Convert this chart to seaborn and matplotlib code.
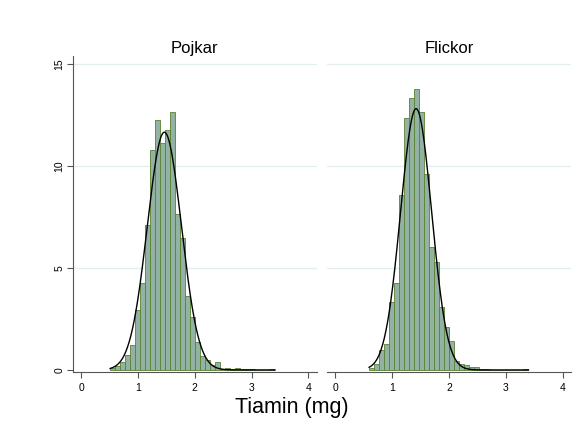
import numpy as np
import pandas as pd
import matplotlib
matplotlib.use("Agg")
import matplotlib.pyplot as plt
import seaborn as sns

# ---- data (percent of observations per bin) ----
panels = ["Pojkar", "Flickor"]
bin_width = 0.0877
boys_start = 0.51
boys_pct = [0.10, 0.20, 0.40, 0.75, 1.23, 2.95, 4.25, 7.10, 10.80, 12.27,
            11.15, 11.77, 12.65, 7.65, 6.45, 3.65, 2.62, 1.35, 0.69, 0.49,
            0.25, 0.41, 0.05, 0.12, 0.05, 0.12, 0.03, 0.03, 0.03, 0.0,
            0.0, 0.0, 0.03]
girls_start = 0.592
girls_pct = [0.08, 0.28, 0.98, 1.28, 3.35, 4.26, 8.60, 12.37, 13.35, 13.79,
             12.66, 9.62, 6.03, 5.28, 3.11, 2.13, 1.43, 0.45, 0.28, 0.26,
             0.15, 0.15, 0.03, 0.03, 0.0, 0.0, 0.0, 0.0, 0.0, 0.0,
             0.0, 0.03]
# normal-curve parameters (mean, sd) for each panel
boys_mean, boys_sd = 1.465, 0.30
girls_mean, girls_sd = 1.42, 0.273

x_ticks = [0, 1, 2, 3, 4]
y_ticks = [0, 5, 10, 15]
x_label = "Tiamin (mg)"

plt.rcParams["font.family"] = ["Liberation Sans", "DejaVu Sans"]

fig = plt.figure(figsize=(5.87, 4.33), dpi=100)
fig.patch.set_facecolor("white")
ax_l = fig.add_axes([0.1238, 0.1409, 0.416, 0.7298])
ax_r = fig.add_axes([0.557, 0.1409, 0.416, 0.7298])

bar_face = "#92b2a3"
bar_edge = "#5b8031"
grid_col = "#e3eeee"
axis_col = "#555555"

datasets = [
    (ax_l, panels[0], boys_start, boys_pct, boys_mean, boys_sd),
    (ax_r, panels[1], girls_start, girls_pct, girls_mean, girls_sd),
]

for i, (ax, title, start, pct, mu, sd) in enumerate(datasets):
    n = len(pct)
    edges = [float(start + bin_width * k) for k in range(n + 1)]
    centers = [(edges[k] + edges[k + 1]) / 2 for k in range(n)]
    df = pd.DataFrame({"x": centers, "w": pct})
    for yv in y_ticks[1:]:
        ax.axhline(yv, color=grid_col, lw=0.9, zorder=0)
    sns.histplot(data=df, x="x", weights="w", bins=edges, stat="count",
                 color=bar_face, edgecolor=bar_edge, linewidth=0.6,
                 alpha=1.0, ax=ax, zorder=2)
    xs = np.linspace(edges[0], edges[-1], 400)
    ys = 100 * bin_width * np.exp(-0.5 * ((xs - mu) / sd) ** 2) / (sd * np.sqrt(2 * np.pi))
    sns.lineplot(x=xs, y=ys, color="black", lw=1.0, ax=ax, zorder=3)

    ax.set_xlim(-0.15, 4.15)
    ax.set_ylim(-0.1, 15.4)
    ax.set_xticks(x_ticks)
    ax.set_xticklabels([str(t) for t in x_ticks], fontsize=7.5)
    ax.set_yticks(y_ticks)
    ax.set_xlabel("")
    ax.set_ylabel("")
    ax.set_title(title, fontsize=12, pad=1)
    ax.set_facecolor("white")
    for s in ["top", "right"]:
        ax.spines[s].set_visible(False)
    ax.spines["bottom"].set_color(axis_col)
    ax.spines["left"].set_color(axis_col)
    ax.tick_params(axis="x", direction="out", length=4, width=0.8,
                   color=axis_col, pad=4, labelsize=7.5)
    if i == 0:
        ax.set_yticklabels([str(t) for t in y_ticks], fontsize=7.5,
                           rotation=90, va="center")
        ax.tick_params(axis="y", direction="out", length=4, width=0.8,
                       color=axis_col, pad=2, labelsize=7.5)
    else:
        ax.spines["left"].set_visible(False)
        ax.tick_params(axis="y", left=False, labelleft=False)

fig.text(0.4965, 0.035, x_label, ha="center", va="bottom", fontsize=15.5)

fig.savefig("out.png", dpi=100, facecolor="white")
